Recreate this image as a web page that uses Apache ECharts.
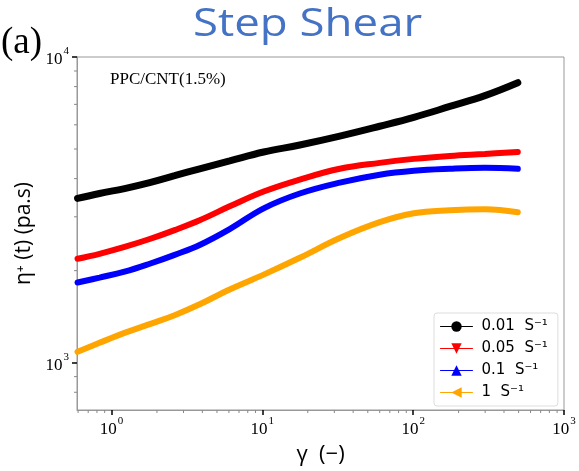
<!DOCTYPE html>
<html>
<head>
<meta charset="utf-8">
<script src="https://cdn.jsdelivr.net/npm/echarts@6/dist/echarts.min.js"></script>
<style>
html,body{margin:0;padding:0;background:#fff;}
#chart{width:579px;height:471px;}
</style>
</head>
<body>
<div id="chart"></div>
<script>
// Shear strain (γ) sample points
var strain = [0.595, 0.832, 1.22, 1.79, 2.62, 3.84, 6.07, 10.2, 17.7, 32.6, 60.0, 101, 175, 299, 494];
// η+(t) values, Pa.s
var eta001 = [3445, 3576, 3712, 3882, 4090, 4308, 4573, 4890, 5152, 5509, 5935, 6346, 6889, 7477, 8240];
var eta005 = [2187, 2270, 2391, 2538, 2715, 2924, 3246, 3630, 3970, 4308, 4505, 4642, 4746, 4817, 4890];
var eta01  = [1829, 1898, 1985, 2107, 2253, 2427, 2735, 3198, 3576, 3882, 4120, 4244, 4308, 4340, 4308];
var eta1   = [1085, 1161, 1251, 1337, 1430, 1552, 1736, 1941, 2203, 2557, 2881, 3081, 3150, 3174, 3103];
var seriesNames = ['0.01  S\u207B\u00B9', '0.05  S\u207B\u00B9', '0.1  S\u207B\u00B9', '1  S\u207B\u00B9'];
var xMajorTicks = [1, 10, 100, 1000];
var yMajorTicks = [1000, 10000];
var xMinorTicks = [0.6, 0.7, 0.8, 0.9, 2, 3, 4, 5, 6, 7, 8, 9, 20, 30, 40, 50, 60, 70, 80, 90, 200, 300, 400, 500, 600, 700, 800, 900];
var yMinorTicks = [800, 900, 2000, 3000, 4000, 5000, 6000, 7000, 8000, 9000];
var X_MIN = 0.59, X_MAX = 1000, Y_MIN = 700, Y_MAX = 10000;

function pairs(ys) { return strain.map(function (x, i) { return [x, ys[i]]; }); }
function powLabel(v) {
  var e = Math.round(Math.log(v) / Math.LN10);
  return '{b|10}{s|' + e + '}';
}
var richLab = {
  b: { fontFamily: 'Liberation Serif', fontSize: 17, color: '#000', lineHeight: 22, verticalAlign: 'bottom' },
  s: { fontFamily: 'Liberation Serif', fontSize: 11, color: '#000', lineHeight: 22, verticalAlign: 'top', padding: [0, 0, 0, 1] }
};

var chart = echarts.init(document.getElementById('chart'), null, { renderer: 'canvas' });

function lineSeries(name, ys, color, symbol, rot, w) {
  return {
    name: name, type: 'line', data: pairs(ys), smooth: 0.4,
    symbol: symbol, symbolRotate: rot, symbolSize: 8, showSymbol: false,
    color: color,
    lineStyle: { width: w, color: color, cap: 'round' },
    itemStyle: { color: color },
    emphasis: { disabled: true }, silent: true, z: 3
  };
}

var option = {
  animation: false,
  backgroundColor: '#fff',
  grid: { left: 77, right: 15, top: 57, bottom: 58, show: true, borderColor: '#999', borderWidth: 1, backgroundColor: 'transparent' },
  xAxis: {
    type: 'log', logBase: 10, min: X_MIN, max: X_MAX,
    name: '\u03B3  (\u2212)', nameLocation: 'middle', nameGap: 34,
    nameTextStyle: { fontFamily: 'Open Sans', fontSize: 22, color: '#000' },
    axisLine: { show: true, lineStyle: { color: '#999', width: 1 } },
    axisTick: { show: true, customValues: xMajorTicks, length: 5, inside: false, lineStyle: { color: '#000', width: 1.5 } },
    axisLabel: { customValues: xMajorTicks, formatter: powLabel, rich: richLab, margin: 6 },
    splitLine: { show: false }, minorTick: { show: false }
  },
  yAxis: {
    type: 'log', logBase: 10, min: Y_MIN, max: Y_MAX,
    name: '\u03B7\u207A (t) (pa.s)', nameLocation: 'middle', nameGap: 36, nameRotate: 90,
    nameTextStyle: { fontFamily: 'Open Sans', fontSize: 21, color: '#000' },
    axisLine: { show: true, lineStyle: { color: '#999', width: 1 } },
    axisTick: { show: true, customValues: yMajorTicks, length: 5, inside: false, lineStyle: { color: '#000', width: 1.5 } },
    axisLabel: { customValues: yMajorTicks, formatter: powLabel, rich: richLab, margin: 8 },
    splitLine: { show: false }, minorTick: { show: false }
  },
  legend: {
    orient: 'vertical', left: 434, top: 313,
    data: seriesNames,
    padding: [6, 10, 6, 6], itemGap: 7, itemWidth: 32, itemHeight: 13,
    borderColor: '#ddd', borderWidth: 1, borderRadius: 3, backgroundColor: '#fff',
    textStyle: { fontFamily: 'DejaVu Sans', fontSize: 15, color: '#000', padding: [0, 0, 0, 4] },
    lineStyle: { width: 1 }
  },
  graphic: [
    { type: 'text', x: 1, y: 25, style: { text: '(a)', fontFamily: 'Liberation Serif', fontSize: 37, fill: '#000', verticalAlign: 'top' } },
    { type: 'text', x: 193, y: 6, scaleX: 1.2, style: { text: 'Step Shear', fontFamily: 'Open Sans', fontSize: 38, fill: '#4472C4', verticalAlign: 'top' } },
    { type: 'text', x: 110, y: 71, style: { text: 'PPC/CNT(1.5%)', fontFamily: 'Liberation Serif', fontSize: 17, fill: '#000', verticalAlign: 'top' } }
  ],
  series: [
    lineSeries(seriesNames[0], eta001, '#000000', 'circle', 0, 7),
    lineSeries(seriesNames[1], eta005, '#ff0000', 'triangle', 180, 6),
    lineSeries(seriesNames[2], eta01, '#0000ff', 'triangle', 0, 6),
    lineSeries(seriesNames[3], eta1, '#ffa500', 'triangle', 90, 6),
    {
      type: 'custom', silent: true, clip: false, z: 5,
      data: xMinorTicks.map(function (v) { return [v, Y_MIN]; }),
      renderItem: function (params, api) {
        var p = api.coord([api.value(0), api.value(1)]);
        return { type: 'line', shape: { x1: p[0], y1: p[1], x2: p[0], y2: p[1] + 3 }, style: { stroke: '#888', lineWidth: 1 } };
      }
    },
    {
      type: 'custom', silent: true, clip: false, z: 5,
      data: yMinorTicks.map(function (v) { return [X_MIN, v]; }),
      renderItem: function (params, api) {
        var p = api.coord([api.value(0), api.value(1)]);
        return { type: 'line', shape: { x1: p[0], y1: p[1], x2: p[0] - 3, y2: p[1] }, style: { stroke: '#888', lineWidth: 1 } };
      }
    }
  ]
};
chart.setOption(option);
</script>
</body>
</html>
